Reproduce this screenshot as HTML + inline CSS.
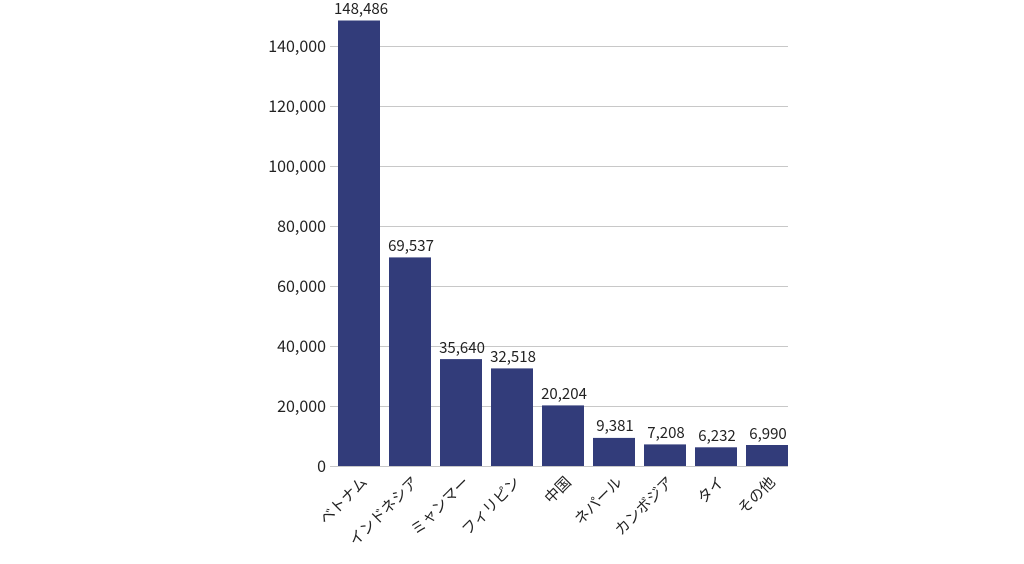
<!DOCTYPE html>
<html><head><meta charset="utf-8"><style>
body{margin:0;background:#fff;}
svg text{font-family:"Noto Sans CJK JP","Liberation Sans",sans-serif;font-size:15px;fill:#222;}
svg .y{font-size:16px;}
</style></head><body>
<svg width="1024" height="559" xmlns="http://www.w3.org/2000/svg">
<g stroke="#c8c8c8" stroke-width="1">
<line x1="330" x2="788" y1="46.5" y2="46.5"/>
<line x1="330" x2="788" y1="106.5" y2="106.5"/>
<line x1="330" x2="788" y1="166.5" y2="166.5"/>
<line x1="330" x2="788" y1="226.5" y2="226.5"/>
<line x1="330" x2="788" y1="286.5" y2="286.5"/>
<line x1="330" x2="788" y1="346.5" y2="346.5"/>
<line x1="330" x2="788" y1="406.5" y2="406.5"/>
<line x1="330" x2="788" y1="466.5" y2="466.5"/>
</g>
<g text-anchor="end">
<text class="y" x="326" y="52">140,000</text>
<text class="y" x="326" y="112">120,000</text>
<text class="y" x="326" y="172">100,000</text>
<text class="y" x="326" y="232">80,000</text>
<text class="y" x="326" y="292">60,000</text>
<text class="y" x="326" y="352">40,000</text>
<text class="y" x="326" y="412">20,000</text>
<text class="y" x="326" y="472">0</text>
</g>
<g fill="#323c7a">
<rect x="338" y="20.5" width="42" height="445.5"/>
<rect x="389" y="257.4" width="42" height="208.6"/>
<rect x="440" y="359.1" width="42" height="106.9"/>
<rect x="491" y="368.4" width="42" height="97.6"/>
<rect x="542" y="405.4" width="42" height="60.6"/>
<rect x="593" y="437.9" width="42" height="28.1"/>
<rect x="644" y="444.4" width="42" height="21.6"/>
<rect x="695" y="447.3" width="42" height="18.7"/>
<rect x="746" y="445.0" width="42" height="21.0"/>
</g>
<g text-anchor="middle">
<text x="361" y="14">148,486</text>
<text x="411" y="251">69,537</text>
<text x="462" y="353">35,640</text>
<text x="513" y="362">32,518</text>
<text x="564" y="399">20,204</text>
<text x="615" y="431">9,381</text>
<text x="666" y="438">7,208</text>
<text x="717" y="441">6,232</text>
<text x="768" y="439">6,990</text>
</g>
<g text-anchor="end">
<text transform="translate(368,483) rotate(-45)">ベトナム</text>
<text transform="translate(419,483) rotate(-45)">インドネシア</text>
<text transform="translate(470,483) rotate(-45)">ミャンマー</text>
<text transform="translate(521,483) rotate(-45)">フィリピン</text>
<text transform="translate(572,483) rotate(-45)">中国</text>
<text transform="translate(623,483) rotate(-45)">ネパール</text>
<text transform="translate(674,483) rotate(-45)">カンボジア</text>
<text transform="translate(725,483) rotate(-45)">タイ</text>
<text transform="translate(776,483) rotate(-45)">その他</text>
</g>
</svg>
</body></html>
